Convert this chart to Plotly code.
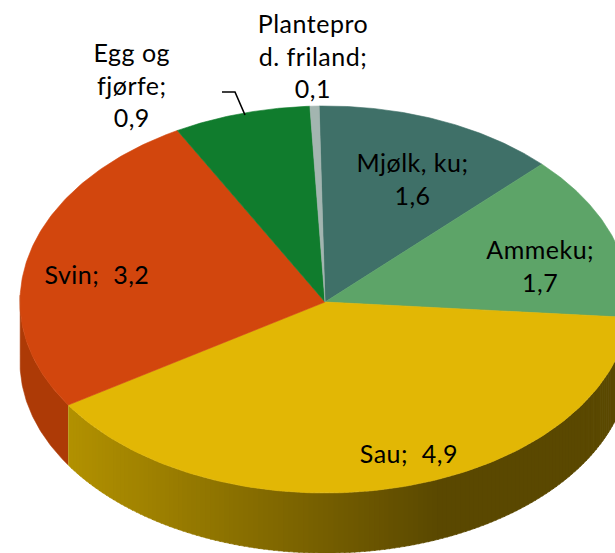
import numpy as np
import plotly.graph_objects as go

categories = ["Mjølk, ku", "Ammeku", "Sau", "Svin", "Egg og fjørfe", "Planteprod. friland"]
values = [1.6, 1.7, 4.92, 3.23, 0.9, 0.06]
value_labels = ["1,6", "1,7", "4,9", "3,2", "0,9", "0,1"]
top_colors = ["#3f7068", "#5da468", "#e2b705", "#d2460d", "#107c2d", "#a3b5b0"]

W, H = 615, 553
CX, CY, RX, RY_TOP, RY_BOT, DEPTH = 325, 302, 305, 196, 191, 60
START = -1.1


def rim(t_deg):
    t = np.radians(np.asarray(t_deg, dtype=float))
    c = np.cos(t)
    x = CX + RX * np.sin(t)
    y = CY - np.where(c > 0, RY_TOP, RY_BOT) * c
    return x, y


def blend(a, b, f):
    pa = np.array([int(a[i:i + 2], 16) for i in (1, 3, 5)], dtype=float)
    pb = np.array([int(b[i:i + 2], 16) for i in (1, 3, 5)], dtype=float)
    p = pa + (pb - pa) * f
    return "rgb(%d,%d,%d)" % tuple(p.round())


fig = go.Figure()


def poly(xs, ys, color):
    fig.add_trace(go.Scatter(x=xs, y=ys, mode="lines", fill="toself", fillcolor=color,
                             line=dict(color=color, width=0.6), hoverinfo="skip", showlegend=False))


cum = START + np.cumsum([0] + values) / sum(values) * 360
sau0, sau1 = cum[2], cum[3]
svin0 = cum[3]

# Svin wall
ts = np.linspace(svin0, 272, 60)
xs, ys = rim(ts)
poly(np.r_[xs, xs[::-1]], np.r_[ys, ys[::-1] + DEPTH], "#ad3a06")

# Sau wall: narrow strips, shade follows horizontal position
edges = np.linspace(sau1, sau0, 151)
for a, b in zip(edges[:-1], edges[1:]):
    ts = np.linspace(a, b - 0.25, 4)
    xs, ys = rim(ts)
    f = np.clip((0.5 * (xs[0] + xs[-1]) - 65) / (440 - 65), 0, 1)
    poly(np.r_[xs, xs[::-1]], np.r_[ys, ys[::-1] + DEPTH], blend("#b39200", "#5a4800", f))

# top faces
for i, col in enumerate(top_colors):
    ts = np.linspace(cum[i], cum[i + 1], 120)
    xs, ys = rim(ts)
    poly(np.r_[CX, xs, CX], np.r_[CY, ys, CY], col)

# leader line for Egg og fjørfe
fig.add_trace(go.Scatter(x=[222, 235, 245], y=[92, 92, 115], mode="lines",
                         line=dict(color="#000000", width=1.6), hoverinfo="skip", showlegend=False))

label_texts = ["Mjølk, ku;<br>1,6", "Ammeku;<br>1,7", "Sau;  4,9", "Svin;  3,2",
               "Egg og<br>fjørfe;<br>0,9", "Plantepro<br>d. friland;<br>0,1"]
label_pos = [(412, 178), (540, 265), (409, 453), (97, 274), (132, 84), (313, 55)]
annotations = [dict(x=x, y=y, text=t, xref="x", yref="y", showarrow=False, align="center",
                    font=dict(family="Lato, Carlito, sans-serif", size=25, color="#000000"))
               for t, (x, y) in zip(label_texts, label_pos)]

fig.update_layout(
    width=W, height=H, autosize=False, margin=dict(l=0, r=0, t=0, b=0),
    paper_bgcolor="white", plot_bgcolor="white", showlegend=False,
    xaxis=dict(range=[0, W], visible=False, fixedrange=True),
    yaxis=dict(range=[H, 0], visible=False, fixedrange=True),
    annotations=annotations,
)
fig.write_html("out.html", config={"displayModeBar": False, "responsive": False},
               post_script="document.body.style.margin='0';document.documentElement.style.overflow='hidden';"
                           "var s=document.createElement('style');s.textContent='.annotation-text{letter-spacing:0.5px}';"
                           "document.head.appendChild(s);")
